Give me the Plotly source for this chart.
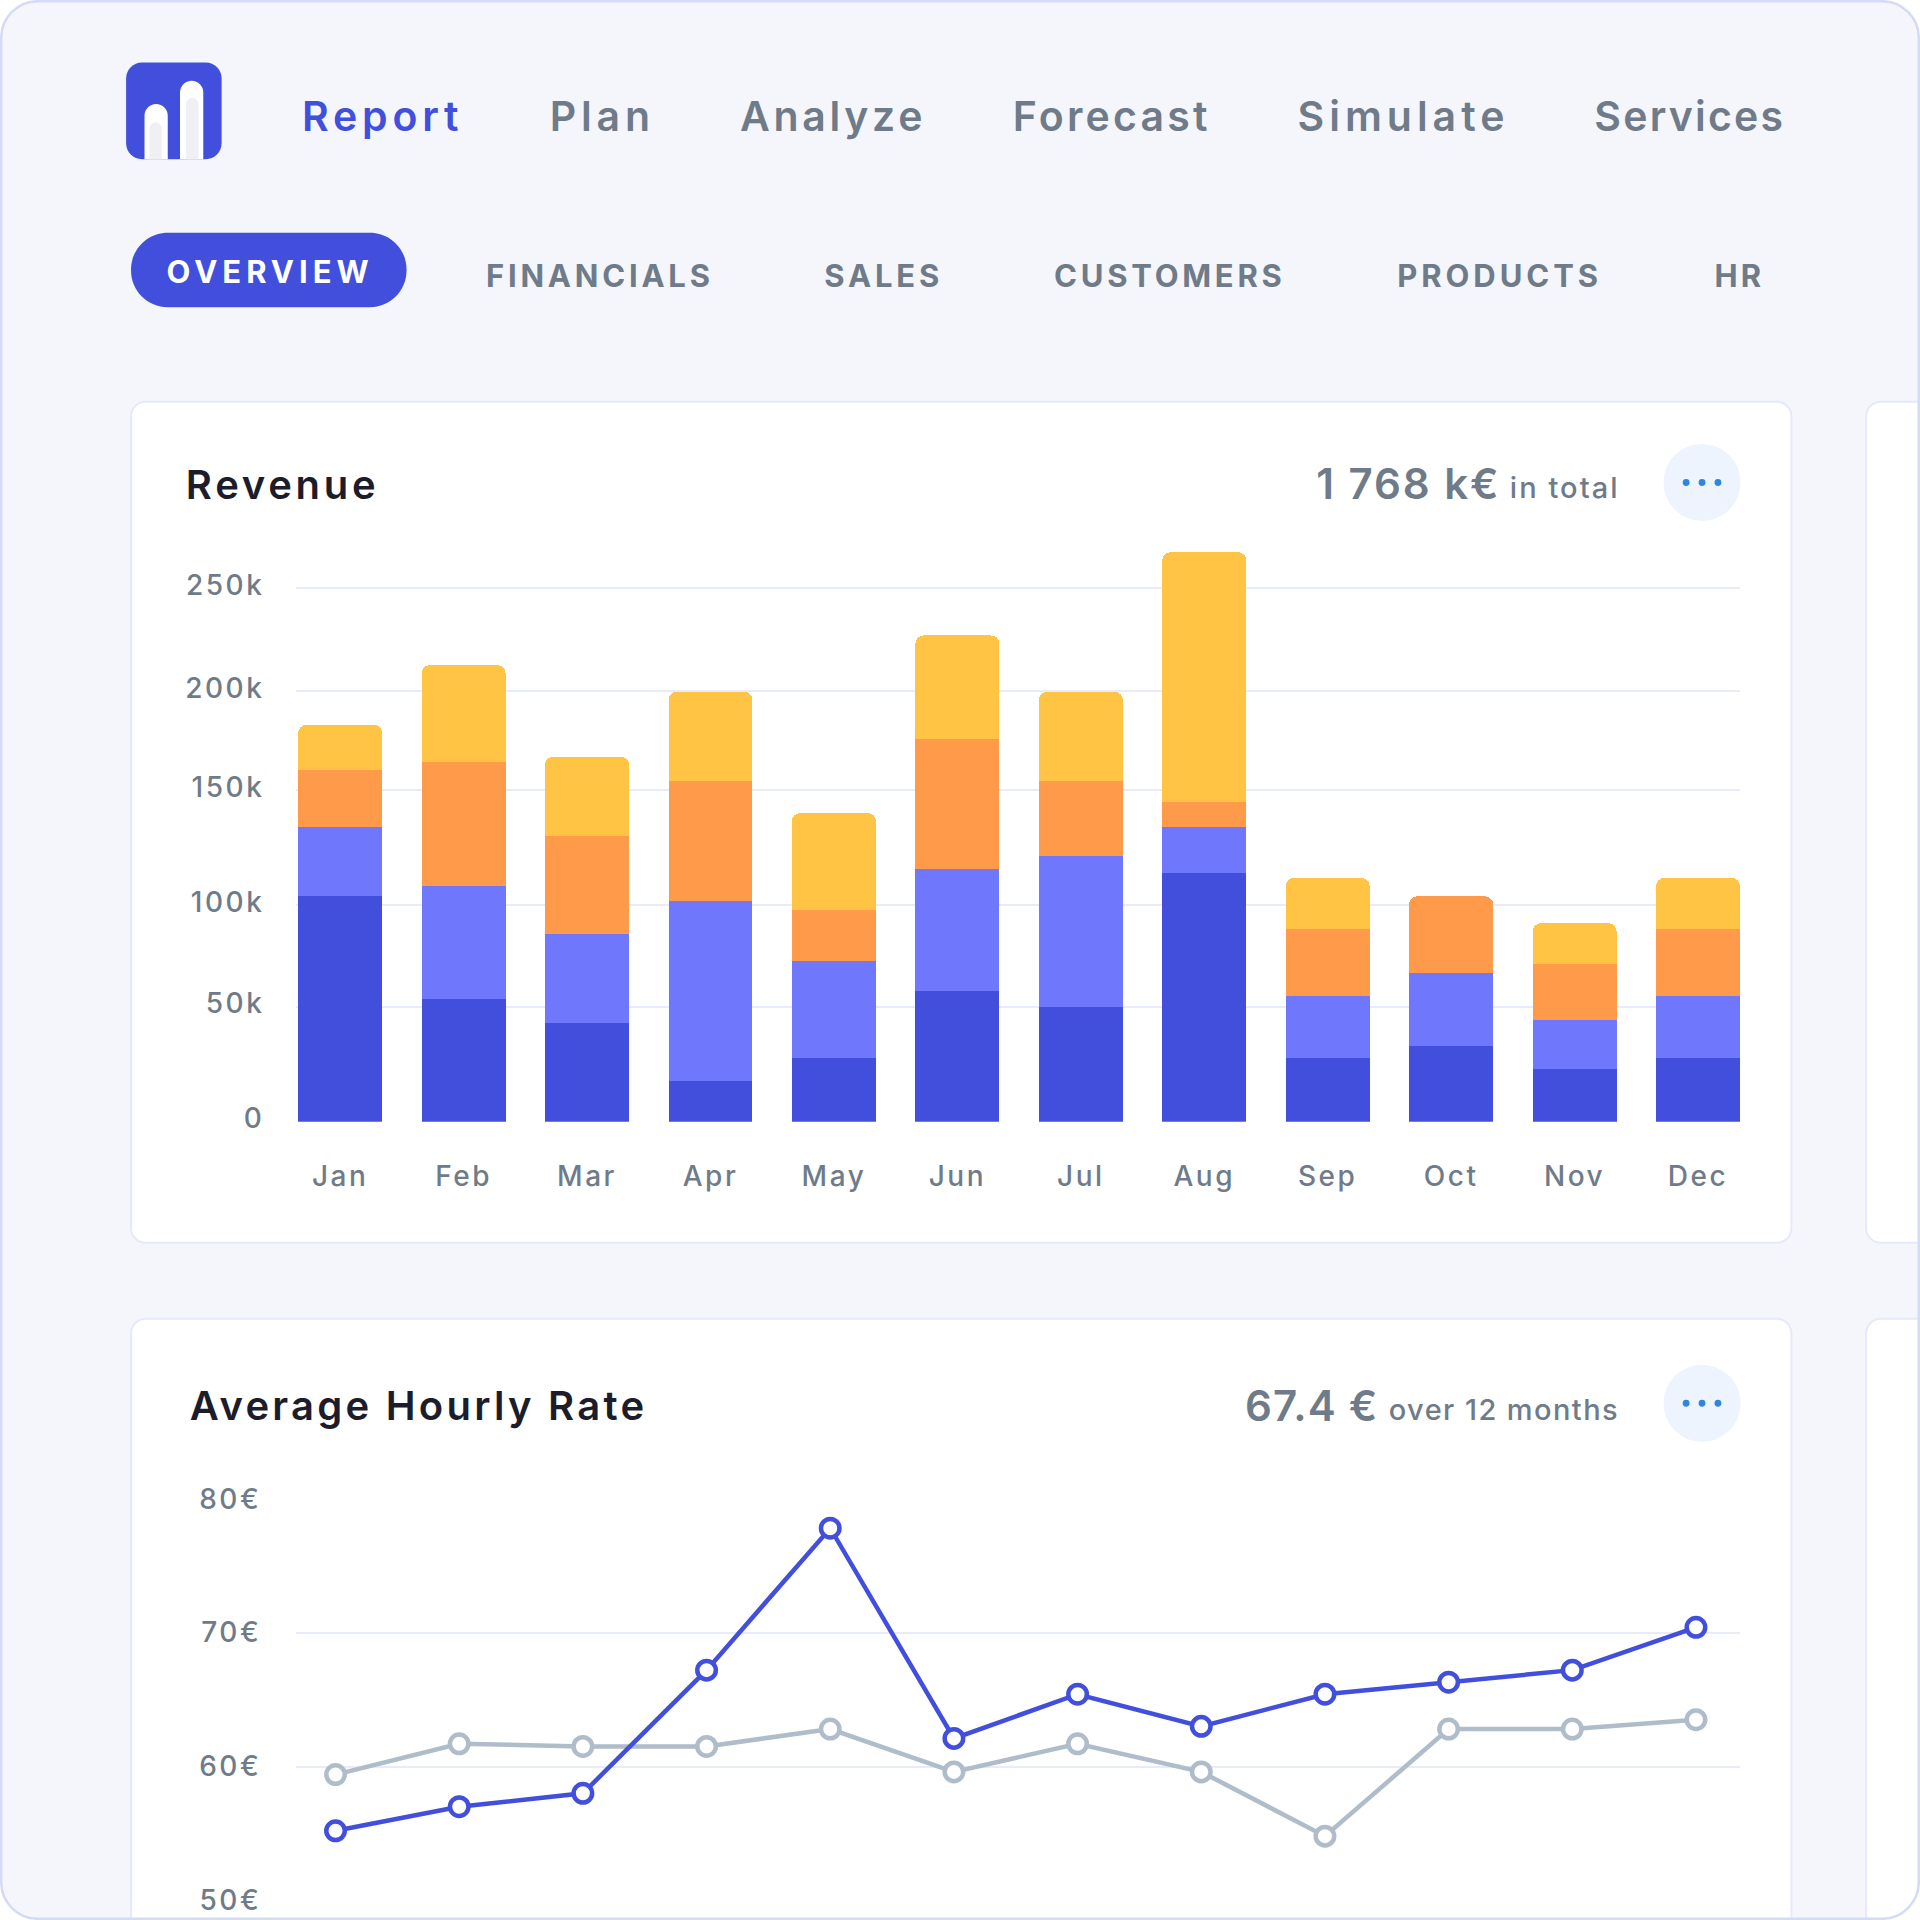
import json
import plotly.graph_objects as go

MONTHS = ["Jan","Feb","Mar","Apr","May","Jun","Jul","Aug","Sep","Oct","Nov","Dec"]
DIRECT = [105.5,57.3,46.4,18.9,29.8,61.4,53.9,116.4,29.8,35.6,24.7,29.8]
PARTNER = [32.7,53.3,41.3,84.3,45.3,56.8,70.5,21.8,29.2,33.8,22.9,29.2]
ONLINE = [26.4,57.9,45.9,56.2,24.1,60.8,35.0,11.5,31.0,36.1,26.4,31.0]
OTHER = [21.2,45.3,37.3,41.9,45.3,48.7,41.9,117.0,24.1,0,18.9,24.1]
REV_TICKVALS = [0,53.9,101.5,155.4,201.8,250]
REV_TICKTEXT = ["0","50k","100k","150k","200k","250k"]
RATE_A = [55.2,57.0,58.0,67.2,77.8,62.1,65.4,63.0,65.4,66.3,67.2,70.4]
RATE_B = [59.4,61.7,61.5,61.5,62.8,59.6,61.7,59.6,54.8,62.8,62.8,63.5]
RATE_TICKS = [50,60,70,80]
RATE_TICKTEXT = ["50€","60€","70€","80€"]

BLUE="#414fdc"; MID="#6f77fd"; ORANGE="#ff9a4a"; YELLOW="#ffc444"
GRAY_TXT="#6f7b89"; DARK="#1c1c2b"; GRID="#e8ebfc"; LINE2="#afbcca"
FONT="Inter"

W=1568.0
X=lambda v: v/W
Y=lambda v: 1-v/W

def rr(x0,y0,x1,y1,r):
    k=lambda a,b: f"{X(a):.5f},{Y(b):.5f}"
    c=r*0.448
    return (f"M{k(x0+r,y0)} L{k(x1-r,y0)} C{k(x1-c,y0)} {k(x1,y0+c)} {k(x1,y0+r)} L{k(x1,y1-r)} "
            f"C{k(x1,y1-c)} {k(x1-c,y1)} {k(x1-r,y1)} L{k(x0+r,y1)} C{k(x0+c,y1)} {k(x0,y1-c)} {k(x0,y1-r)} "
            f"L{k(x0,y0+r)} C{k(x0,y0+c)} {k(x0+c,y0)} {k(x0+r,y0)} Z")
def top_round(x0,y0,x1,y1):
    r=(x1-x0)/2; c=r*0.448; k=lambda a,b: f"{X(a):.5f},{Y(b):.5f}"
    return (f"M{k(x0,y1)} L{k(x0,y0+r)} C{k(x0,y0+c)} {k(x0+c,y0)} {k(x0+r,y0)} "
            f"C{k(x1-c,y0)} {k(x1,y0+c)} {k(x1,y0+r)} L{k(x1,y1)} Z")
def shp(path,fill,line=None,lw=0,layer="below"):
    return dict(type="path",xref="paper",yref="paper",path=path,fillcolor=fill,
                line=dict(color=line or "rgba(0,0,0,0)",width=lw),layer=layer)
def circle(cx,cy,r,fill):
    return dict(type="circle",xref="paper",yref="paper",x0=X(cx-r),x1=X(cx+r),y0=Y(cy+r),y1=Y(cy-r),
                fillcolor=fill,line=dict(width=0),layer="below")

shapes=[
 shp(rr(1,1,1567,1567,30),"#f4f6fb"),
 shp(rr(107,328,1463,1015,12),"#ffffff","#e6e9fb",2),
 shp(rr(1524,328,1590,1015,12),"#ffffff","#e6e9fb",2),
 shp(rr(107,1077,1463,1600,12),"#ffffff","#e6e9fb",2),
 shp(rr(1524,1077,1590,1600,12),"#ffffff","#e6e9fb",2),
 shp(rr(1,1,1567,1567,30),"rgba(0,0,0,0)","#d5daf5",2.5),
 shp(rr(103,51,181,130,13),BLUE),
 shp(top_round(118,85,137,130),"#ffffff"),
 shp(top_round(147,66,166,130),"#ffffff"),
 shp(top_round(122,100,132,130),"#efeff4"),
 shp(top_round(152,80,162,130),"#efeff4"),
 shp(rr(107,190,332,251,30),BLUE),
 circle(1390,394,31.5,"#eef4fd"),
 circle(1390,1146,31.5,"#eef4fd"),
]
for cy in (394,1146):
    for cx in (1377,1390,1403):
        shapes.append(circle(cx,cy,2.8,"#2f86e0"))

fits={}
def text(t,x0,x1,y,size,color,weight=600):
    fits[t]=round((x1-x0)*1920/W,1)
    return dict(text=t,x=X((x0+x1)/2),y=Y(y),xref="paper",yref="paper",xanchor="center",yanchor="middle",
                showarrow=False,font=dict(family=FONT,size=size,color=color,weight=weight))
anns=[
 text("Report",247,375,95,41,BLUE),
 text("Plan",449,531,95,41,GRAY_TXT),
 text("Analyze",604,753,95,41,GRAY_TXT),
 text("Forecast",827,986,95,41,GRAY_TXT),
 text("Simulate",1060,1229,95,41,GRAY_TXT),
 text("Services",1302,1456,95,41,GRAY_TXT),
 text("OVERVIEW",136,301,222,31,"#ffffff",700),
 text("FINANCIALS",397,580,225,31,GRAY_TXT,700),
 text("SALES",673,767,225,31,GRAY_TXT,700),
 text("CUSTOMERS",861,1047,225,31,GRAY_TXT,700),
 text("PRODUCTS",1141,1305,225,31,GRAY_TXT,700),
 text("HR",1400,1438,225,31,GRAY_TXT,700),
 text("Revenue",152,307,396,40,DARK),
 text("1 768 k€",1075,1224,395,42,GRAY_TXT),
 text("in total",1233,1321,398,29,GRAY_TXT,500),
 text("Average Hourly Rate",155,526,1148,40,DARK),
 text("67.4 €",1017,1125,1148,42,GRAY_TXT),
 text("over 12 months",1134,1321,1151,29,GRAY_TXT,500),
]

fig=go.Figure()
for name,vals,col in [("Direct",DIRECT,BLUE),("Partner",PARTNER,MID),("Online",ONLINE,ORANGE),("Other",OTHER,YELLOW)]:
    fig.add_bar(x=MONTHS,y=vals,name=name,marker=dict(color=col,line=dict(width=0)),width=0.68,xaxis="x",yaxis="y")
fig.add_scatter(x=MONTHS,y=RATE_B,mode="lines+markers",name="Previous",xaxis="x2",yaxis="y2",
    line=dict(color=LINE2,width=4.5),marker=dict(size=18.5,color="#ffffff",line=dict(color=LINE2,width=4.5)),cliponaxis=False)
fig.add_scatter(x=MONTHS,y=RATE_A,mode="lines+markers",name="Current",xaxis="x2",yaxis="y2",
    line=dict(color=BLUE,width=4.5),marker=dict(size=18.5,color="#ffffff",line=dict(color=BLUE,width=4.5)),cliponaxis=False)

tick=dict(family=FONT,size=28,color=GRAY_TXT,weight=500)
fig.update_layout(
  width=1920,height=1920,margin=dict(l=0,r=0,t=0,b=0),autosize=False,
  paper_bgcolor="#ffffff",plot_bgcolor="rgba(0,0,0,0)",showlegend=False,barmode="stack",bargap=0.32,
  barcornerradius=8,shapes=shapes,annotations=anns,
  xaxis=dict(domain=[X(242),X(1421)],range=[-0.355,11.34],type="category",categoryorder="array",categoryarray=MONTHS,automargin=False,
             showgrid=False,zeroline=False,showline=False,ticks="",tickfont=tick,ticklabelstandoff=35,anchor="y"),
  yaxis=dict(domain=[Y(916),Y(440)],range=[0,273],tickmode="array",tickvals=REV_TICKVALS,ticktext=REV_TICKTEXT,automargin=False,
             showgrid=True,gridcolor=GRID,gridwidth=2,zeroline=True,zerolinecolor="rgba(0,0,0,0)",zerolinewidth=0,
             showline=False,ticks="",tickfont=tick,ticklabelstandoff=31,anchor="x"),
  xaxis2=dict(domain=[X(242),X(1421)],range=[-0.317,11.356],type="category",categoryorder="array",categoryarray=MONTHS,automargin=False,
             showgrid=False,zeroline=False,showline=False,showticklabels=False,ticks="",anchor="y2"),
  yaxis2=dict(domain=[Y(1552),Y(1224)],range=[50,80],tickmode="array",tickvals=RATE_TICKS,ticktext=RATE_TICKTEXT,automargin=False,
             showgrid=True,gridcolor=GRID,gridwidth=2,zeroline=False,showline=False,ticks="",tickfont=tick,
             ticklabelstandoff=34,anchor="x2"),
)
post="""
document.body.style.margin='0';
var s=document.createElement('style');
s.textContent='.xtick text,.ytick text,.y2tick text{letter-spacing:.09em}';
document.head.appendChild(s);
var fits=%s;
document.querySelectorAll('.annotation-text').forEach(function(t){
  var w=fits[t.textContent]; if(w){t.setAttribute('textLength',w);t.setAttribute('lengthAdjust','spacing');}
});
document.querySelectorAll('.ytick text').forEach(function(t){t.setAttribute('dy','-3');});
""" % json.dumps(fits, ensure_ascii=False)
fig.write_html("out.html",post_script=post,config={"displayModeBar":False})
